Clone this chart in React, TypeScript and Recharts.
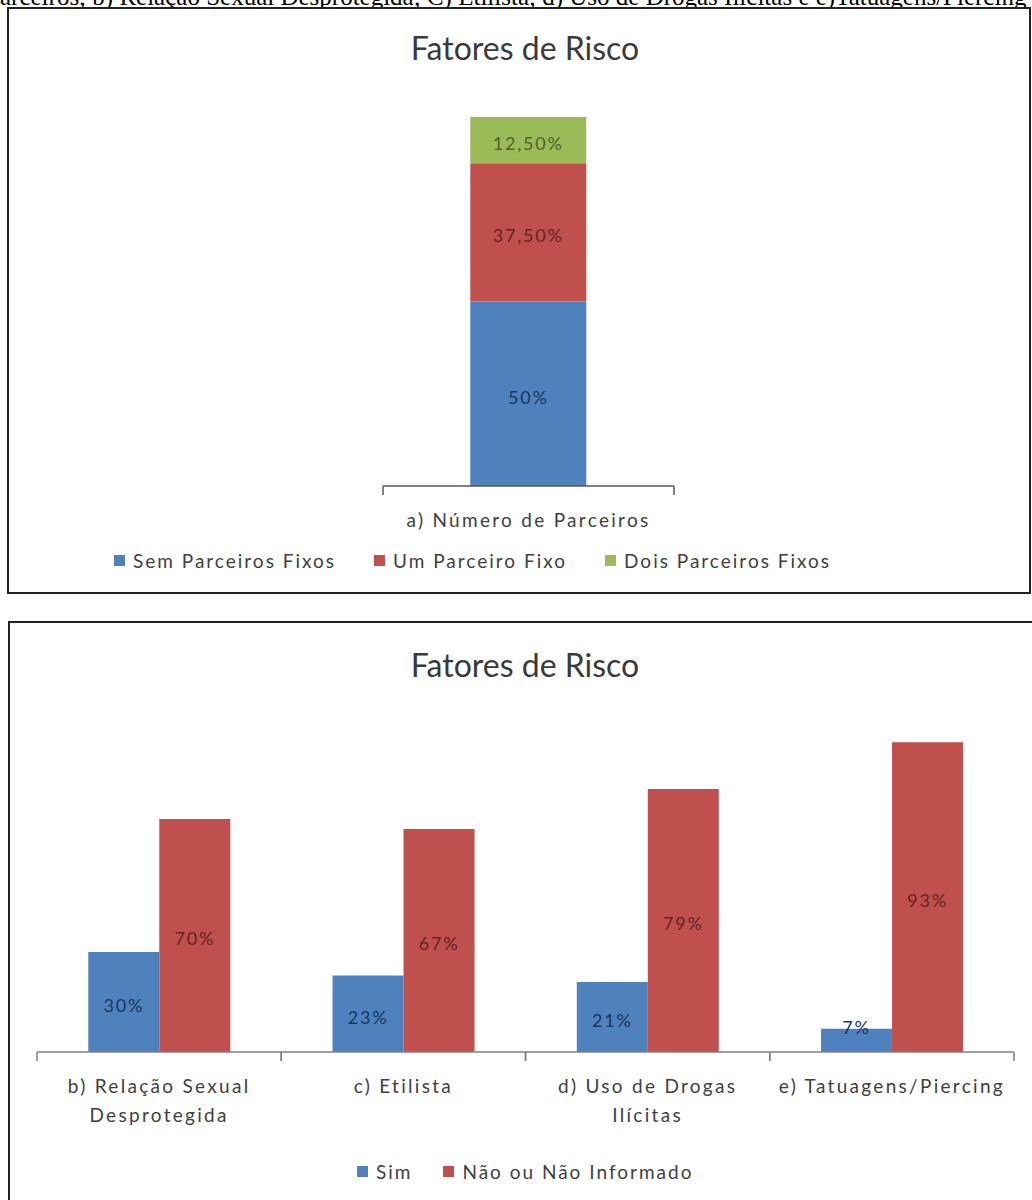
import React from "react";
import { Bar, BarChart, LabelList, Legend, XAxis, YAxis } from "recharts";

// visible part of the caption line above the figure (cropped in the source)
const captionText =
  "arceiros; b) Relação Sexual Desprotegida; C) Etilista; d) Uso de Drogas Ilícitas e e)Tatuagens/Piercing";
const chartTitle = "Fatores de Risco";

// chart a) número de parceiros (stacked)
const partnerCategories = ["a) Número de Parceiros"];
const semParceiros = [50];
const umParceiro = [37.5];
const doisParceiros = [12.5];
const partnerNames = ["Sem Parceiros Fixos", "Um Parceiro Fixo", "Dois Parceiros Fixos"];

// charts b) - e) (grouped)
const riskCategories = [
  "b) Relação Sexual\nDesprotegida",
  "c) Etilista",
  "d) Uso de Drogas\nIlícitas",
  "e) Tatuagens/Piercing",
];
const simValues = [30, 23, 21, 7];
const naoValues = [70, 67, 79, 93];
const riskNames = ["Sim", "Não ou Não Informado"];

const BLUE = "#4F81BD";
const RED = "#C0504D";
const GREEN = "#9BBB59";
const FONT = "Lato, 'Open Sans', sans-serif";
const TEXT = "#404040";

const partnerData = partnerCategories.map((cat, i) => ({
  cat,
  sem: semParceiros[i],
  um: umParceiro[i],
  dois: doisParceiros[i],
}));

const riskData = riskCategories.map((cat, i) => ({
  cat,
  sim: simValues[i],
  nao: naoValues[i],
}));

const fmtPct = (v: number) =>
  Number.isInteger(v) ? `${v}%` : `${v.toFixed(2).replace(".", ",")}%`;

const makeTick = (stroke: string) => (props: any) => {
  const { x, y, payload, width, visibleTicksCount } = props;
  const half =
    payload && typeof payload.offset === "number" && payload.offset > 0
      ? payload.offset
      : width / (visibleTicksCount || 1) / 2;
  const lines = String(payload.value).split("\n");
  return (
    <g>
      <line x1={x - half} x2={x - half} y1={y} y2={y + 9} stroke={stroke} strokeWidth={1.5} />
      <line x1={x + half} x2={x + half} y1={y} y2={y + 9} stroke={stroke} strokeWidth={1.5} />
      <text
        x={x}
        y={y + 41}
        textAnchor="middle"
        fill={TEXT}
        fontSize={19}
        letterSpacing={2.3}
        fontFamily={FONT}
      >
        {lines.map((l, i) => (
          <tspan key={i} x={x} dy={i === 0 ? 0 : 29}>
            {l}
          </tspan>
        ))}
      </text>
    </g>
  );
};

const makeLabel = (color: string) => (props: any) => {
  const { x, y, width, height, value } = props;
  const cy = height < 30 ? y + height - 25 : y + height / 2 + 3;
  return (
    <text
      x={x + width / 2}
      y={cy}
      textAnchor="middle"
      dominantBaseline="central"
      fill={color}
      fontSize={18}
      letterSpacing={1.8}
      fontFamily={FONT}
    >
      {fmtPct(Number(value))}
    </text>
  );
};

const makeLegend = (gap: number, order: string[]) => (props: any) => {
  const items = [...(props.payload || [])].sort(
    (a: any, b: any) => order.indexOf(a.value) - order.indexOf(b.value)
  );
  return (
    <div
      style={{
        display: "flex",
        alignItems: "center",
        gap,
        fontFamily: FONT,
        fontSize: 19,
        letterSpacing: 2,
        color: TEXT,
        whiteSpace: "nowrap",
      }}
    >
      {items.map((p: any) => (
        <div key={p.value} style={{ display: "flex", alignItems: "center" }}>
          <span style={{ width: 11, height: 11, background: p.color, marginRight: 8 }} />
          <span>{p.value}</span>
        </div>
      ))}
    </div>
  );
};

const titleStyle = (top: number): React.CSSProperties => ({
  position: "absolute",
  left: 325,
  width: 400,
  top,
  textAlign: "center",
  fontFamily: FONT,
  fontSize: 32,
  lineHeight: "40px",
  color: "#3a3a3a",
});

export default function App() {
  return (
    <div
      style={{
        position: "absolute",
        left: 0,
        top: 0,
        width: 1032,
        height: 1200,
        overflow: "hidden",
        background: "#fff",
      }}
    >
      <div
        style={{
          position: "absolute",
          left: 0,
          top: -16,
          whiteSpace: "nowrap",
          fontFamily: "'Liberation Serif', 'Times New Roman', serif",
          fontSize: 25,
          lineHeight: "25px",
          color: "#000",
        }}
      >
        {captionText}
      </div>

      {/* chart a) */}
      <div
        style={{
          position: "absolute",
          left: 7,
          top: 7,
          width: 1024,
          height: 587,
          border: "2px solid #222",
          boxSizing: "border-box",
          background: "#fff",
        }}
      />
      <div style={titleStyle(28)}>{chartTitle}</div>
      <div style={{ position: "absolute", left: 8, top: 8 }}>
        <BarChart
          width={1022}
          height={585}
          data={partnerData}
          margin={{ top: 109, right: 356, left: 375, bottom: 67 }}
          barCategoryGap="30%"
        >
          <XAxis
            dataKey="cat"
            type="category"
            height={40}
            interval={0}
            axisLine={{ stroke: "#595959", strokeWidth: 1.5 }}
            tickLine={false}
            tickSize={0}
            tickMargin={0}
            tick={makeTick("#595959")}
          />
          <YAxis type="number" domain={[0, 100]} hide />
          <Legend
            layout="horizontal"
            verticalAlign="middle"
            align="center"
            wrapperStyle={{ left: 106, top: 541, width: "max-content" }}
            content={makeLegend(38, partnerNames)}
          />
          <Bar dataKey="sem" name={partnerNames[0]} stackId="a" fill={BLUE} isAnimationActive={false}>
            <LabelList dataKey="sem" content={makeLabel("#17375E")} />
          </Bar>
          <Bar dataKey="um" name={partnerNames[1]} stackId="a" fill={RED} isAnimationActive={false}>
            <LabelList dataKey="um" content={makeLabel("#632523")} />
          </Bar>
          <Bar dataKey="dois" name={partnerNames[2]} stackId="a" fill={GREEN} isAnimationActive={false}>
            <LabelList dataKey="dois" content={makeLabel("#4F6228")} />
          </Bar>
        </BarChart>
      </div>

      {/* charts b) - e) */}
      <div
        style={{
          position: "absolute",
          left: 8,
          top: 621,
          width: 1040,
          height: 620,
          border: "2px solid #222",
          boxSizing: "border-box",
        }}
      />
      <div style={titleStyle(645)}>{chartTitle}</div>
      <div style={{ position: "absolute", left: 9, top: 622 }}>
        <BarChart
          width={1023}
          height={578}
          data={riskData}
          margin={{ top: 97, right: 18, left: 28, bottom: 88 }}
          barCategoryGap="21%"
          barGap={0}
        >
          <XAxis
            dataKey="cat"
            type="category"
            height={60}
            interval={0}
            axisLine={{ stroke: "#808080", strokeWidth: 1.5 }}
            tickLine={false}
            tickSize={0}
            tickMargin={0}
            tick={makeTick("#808080")}
          />
          <YAxis type="number" domain={[0, 100]} hide />
          <Legend
            layout="horizontal"
            verticalAlign="middle"
            align="center"
            wrapperStyle={{ left: 348, top: 538, width: "max-content" }}
            content={makeLegend(31, riskNames)}
          />
          <Bar dataKey="sim" name={riskNames[0]} fill={BLUE} isAnimationActive={false}>
            <LabelList dataKey="sim" content={makeLabel("#17375E")} />
          </Bar>
          <Bar dataKey="nao" name={riskNames[1]} fill={RED} isAnimationActive={false}>
            <LabelList dataKey="nao" content={makeLabel("#632523")} />
          </Bar>
        </BarChart>
      </div>
    </div>
  );
}
